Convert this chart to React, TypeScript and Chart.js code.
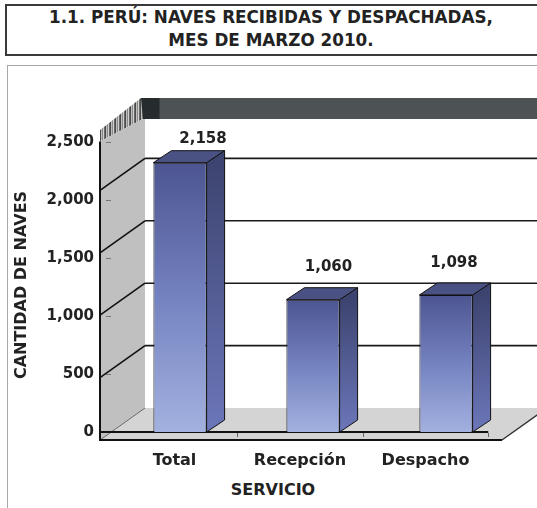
import React, { useEffect, useRef } from "react";
import { Chart, registerables } from "chart.js";

Chart.register(...registerables);

// ---------- data ----------
const categories = ["Total", "Recepción", "Despacho"];
const values = [2158, 1060, 1098];
const yTicks = [0, 500, 1000, 1500, 2000, 2500];
const titleLines = ["1.1. PERÚ: NAVES RECIBIDAS Y DESPACHADAS,", "MES DE MARZO 2010."];
const yTitle = "CANTIDAD DE NAVES";
const xTitle = "SERVICIO";

// ---------- styles ----------
const FONT = "'DejaVu Sans', 'Liberation Sans', Arial, sans-serif";
const TEXT = "#222222";
const FRONT = { dx: -13.5, dy: 8 };
const BACK = { dx: 31.5, dy: -24 };
const BAR_DEPTH = { dx: 18, dy: -12 };

const fmt = (v: number) => v.toLocaleString("en-US");

function stripePattern(ctx: CanvasRenderingContext2D) {
  const c = document.createElement("canvas");
  c.width = 5;
  c.height = 1;
  const g = c.getContext("2d")!;
  const cols = ["#4a4a4a", "#bdbdbd", "#8a8a8a", "#d0d0d0", "#6a6a6a"];
  cols.forEach((col, i) => {
    g.fillStyle = col;
    g.fillRect(i, 0, 1, 1);
  });
  return ctx.createPattern(c, "repeat");
}

const threeD = {
  id: "threeD",
  beforeDatasetsDraw(chart: any) {
    const { ctx, chartArea } = chart;
    const y = chart.scales.y;
    const yl = chart.scales.yl;
    const xl = chart.scales.xl;
    const top = yTicks[yTicks.length - 1];
    const Yf = (v: number) => y.getPixelForValue(v) + FRONT.dy;
    const Yb = (v: number) => y.getPixelForValue(v) + BACK.dy;
    const fL = chartArea.left + FRONT.dx;
    const bL = chartArea.left + BACK.dx;
    const fR = chartArea.right + FRONT.dx;
    const bR = chartArea.right + BACK.dx;
    ctx.save();

    // back wall gridlines
    ctx.strokeStyle = "#1a1a1a";
    ctx.lineWidth = 1.6;
    yTicks.slice(1, -1).forEach((v) => {
      ctx.beginPath();
      ctx.moveTo(bL, Yb(v));
      ctx.lineTo(bR + 20, Yb(v));
      ctx.stroke();
    });

    // top band of the back wall
    const bandTop = Yb(top) + 2;
    ctx.fillStyle = "#4d5355";
    ctx.fillRect(bL - 4, bandTop, bR + 40 - bL, 21);
    ctx.fillStyle = "#262c2e";
    ctx.fillRect(bL - 4, bandTop, 18.5, 21);

    // left wall striped top edge
    ctx.fillStyle = stripePattern(ctx) as any;
    ctx.beginPath();
    ctx.moveTo(fL, Yf(top) + 2);
    ctx.lineTo(bL - 4, Yb(top) + 2);
    ctx.lineTo(bL - 2, Yb(top) + 23);
    ctx.lineTo(fL, Yf(top) + 13.5);
    ctx.closePath();
    ctx.fill();

    // left wall
    ctx.fillStyle = "#c0c0c0";
    ctx.beginPath();
    ctx.moveTo(fL, Yf(top) + 13.5);
    ctx.lineTo(bL - 2, Yb(top) + 23);
    ctx.lineTo(bL, Yb(top) + 23);
    ctx.lineTo(bL, Yb(0));
    ctx.lineTo(fL, Yf(0));
    ctx.closePath();
    ctx.fill();

    // left wall diagonals
    ctx.strokeStyle = "#111";
    ctx.lineWidth = 1.6;
    yTicks.slice(1, -1).forEach((v) => {
      ctx.beginPath();
      ctx.moveTo(fL, Yf(v));
      ctx.lineTo(bL, Yb(v));
      ctx.stroke();
    });

    // minor tick marks on wall (label scale)
    ctx.strokeStyle = "#777";
    ctx.lineWidth = 1;
    yTicks.forEach((v) => {
      const py = Math.round(yl.getPixelForValue(v)) + 0.5;
      ctx.beginPath();
      ctx.moveTo(fL + 6, py);
      ctx.lineTo(fL + 11, py);
      ctx.stroke();
    });

    // floor
    ctx.fillStyle = "#d4d4d4";
    ctx.beginPath();
    ctx.moveTo(fL, Yf(0));
    ctx.lineTo(fR + 3, Yf(0));
    ctx.lineTo(bR + 3, Yb(0));
    ctx.lineTo(bL, Yb(0));
    ctx.closePath();
    ctx.fill();
    ctx.strokeStyle = "#333";
    ctx.lineWidth = 1.5;
    ctx.beginPath();
    ctx.moveTo(fR + 3, Yf(0));
    ctx.lineTo(bR + 3, Yb(0));
    ctx.stroke();
    ctx.strokeStyle = "#666";
    ctx.lineWidth = 1;
    ctx.beginPath();
    ctx.moveTo(fL, Yf(0));
    ctx.lineTo(bL, Yb(0));
    ctx.stroke();
    ctx.strokeStyle = "#111";
    ctx.lineWidth = 1.8;
    ctx.beginPath();
    ctx.moveTo(fL, Yf(0));
    ctx.lineTo(fR + 3, Yf(0));
    ctx.stroke();

    // x axis line (bar plane) and category boundary ticks
    const base = y.getPixelForValue(0);
    const xEnd = xl.getPixelForValue(categories.length - 0.5);
    ctx.strokeStyle = "#111";
    ctx.lineWidth = 2;
    ctx.beginPath();
    ctx.moveTo(fL, base);
    ctx.lineTo(xEnd, base);
    ctx.stroke();
    ctx.strokeStyle = "#666";
    ctx.lineWidth = 1;
    for (let i = 0; i < categories.length; i++) {
      const px = Math.round(xl.getPixelForValue(i + 0.5)) + 0.5;
      ctx.beginPath();
      ctx.moveTo(px, base + 1);
      ctx.lineTo(px, base + 5);
      ctx.stroke();
    }

    // left front edge
    ctx.strokeStyle = "#111";
    ctx.lineWidth = 2;
    ctx.beginPath();
    ctx.moveTo(fL, Yf(top) + 13.5);
    ctx.lineTo(fL, Yf(0) + 1);
    ctx.stroke();

    ctx.restore();
  },
  afterDatasetsDraw(chart: any) {
    const { ctx } = chart;
    const meta = chart.getDatasetMeta(0);
    const yl = chart.scales.yl;
    const xl = chart.scales.xl;
    ctx.save();
    ctx.lineWidth = 1;
    ctx.strokeStyle = "#111";
    meta.data.forEach((bar: any, i: number) => {
      const { x, y, base, width } = bar.getProps(["x", "y", "base", "width"], true);
      if (![x, y, base, width].every(Number.isFinite)) return;
      const l = x - width / 2;
      const r = x + width / 2;
      // side face
      const g = ctx.createLinearGradient(0, y, 0, base);
      g.addColorStop(0, "#3d4470");
      g.addColorStop(1, "#6c77ba");
      ctx.fillStyle = g;
      ctx.beginPath();
      ctx.moveTo(r, y);
      ctx.lineTo(r + BAR_DEPTH.dx, y + BAR_DEPTH.dy);
      ctx.lineTo(r + BAR_DEPTH.dx, base + BAR_DEPTH.dy);
      ctx.lineTo(r, base);
      ctx.closePath();
      ctx.fill();
      ctx.stroke();
      // top face
      ctx.fillStyle = "#4a5283";
      ctx.beginPath();
      ctx.moveTo(l, y);
      ctx.lineTo(l + BAR_DEPTH.dx, y + BAR_DEPTH.dy);
      ctx.lineTo(r + BAR_DEPTH.dx, y + BAR_DEPTH.dy);
      ctx.lineTo(r, y);
      ctx.closePath();
      ctx.fill();
      ctx.stroke();
      // value label
      ctx.fillStyle = TEXT;
      ctx.font = `bold 15px ${FONT}`;
      ctx.textAlign = "center";
      ctx.textBaseline = "middle";
      ctx.fillText(fmt(values[i]), xl.getPixelForValue(i) + 28.5, yl.getPixelForValue(values[i]) - 42);
    });
    ctx.restore();
  },
};

export default function App() {
  const ref = useRef<HTMLCanvasElement>(null);

  useEffect(() => {
    const canvas = ref.current!;
    const chart = new Chart(canvas, {
      type: "bar",
      data: {
        labels: categories,
        datasets: [
          {
            data: values,
            borderColor: "#111",
            borderWidth: 1,
            barPercentage: 0.4,
            categoryPercentage: 1,
            backgroundColor: (c: any) => {
              const ch = c.chart;
              const ys = ch.scales && ch.scales.y;
              const v = c.parsed ? c.parsed.y : values[c.dataIndex];
              if (!ys || v == null) return "#6a78b8";
              const t = ys.getPixelForValue(v);
              const b = ys.getPixelForValue(0);
              if (!Number.isFinite(t) || !Number.isFinite(b) || t === b) return "#6a78b8";
              const g = ch.ctx.createLinearGradient(0, t, 0, b);
              g.addColorStop(0, "#4c5590");
              g.addColorStop(0.5, "#7482c0");
              g.addColorStop(1, "#a3b1e0");
              return g;
            },
          },
        ],
      },
      options: {
        animation: false,
        responsive: false,
        devicePixelRatio: 1,
        layout: { padding: { left: 0, right: 24.5, top: 120, bottom: 0 } },
        plugins: { legend: { display: false }, tooltip: { enabled: false }, title: { display: false } },
        scales: {
          x: { type: "category", display: false, offset: true },
          y: { type: "linear", display: false, min: -144.2, max: 2500 },
          yl: {
            type: "linear",
            position: "left",
            min: -150.5,
            max: 2687,
            offset: false,
            grid: { display: false, drawTicks: false },
            border: { display: false },
            afterBuildTicks: (s: any) => {
              s.ticks = yTicks.map((v) => ({ value: v }));
            },
            afterFit: (s: any) => {
              s.width = 113.5;
            },
            ticks: {
              padding: 19.5,
              color: TEXT,
              font: { family: FONT, size: 15, weight: "bold" },
              callback: (v: any) => fmt(Number(v)),
            },
            title: {
              display: true,
              text: yTitle,
              color: TEXT,
              font: { family: FONT, size: 16, weight: "bold" },
              padding: { top: 12, bottom: 0 },
            },
          },
          xl: {
            type: "linear",
            position: "bottom",
            offset: false,
            min: (113.5 - 174.5) / 125.5,
            max: (512.5 - 174.5) / 125.5,
            grid: { display: false, drawTicks: false, offset: false },
            border: { display: false },
            afterBuildTicks: (s: any) => {
              s.ticks = categories.map((_, i) => ({ value: i }));
            },
            afterFit: (s: any) => {
              s.height = 58;
            },
            ticks: {
              padding: 1,
              color: TEXT,
              autoSkip: false,
              maxRotation: 0,
              font: { family: FONT, size: 16, weight: "bold" },
              callback: (v: any) => categories[Math.round(Number(v))] ?? "",
            },
          },
        },
      } as any,
      plugins: [threeD],
    });
    return () => chart.destroy();
  }, []);

  return (
    <div
      style={{
        position: "absolute",
        left: 0,
        top: 0,
        width: 537,
        height: 508,
        overflow: "hidden",
        background: "#fff",
        fontFamily: FONT,
        color: TEXT,
      }}
    >
      <div
        style={{
          position: "absolute",
          left: 5,
          top: 4,
          width: 560,
          height: 48,
          border: "2px solid #3a3a3a",
        }}
      />
      <div
        style={{
          position: "absolute",
          left: 0,
          top: 6,
          width: 542,
          textAlign: "center",
          fontWeight: "bold",
          fontSize: 16.8,
          lineHeight: "22.5px",
        }}
      >
        {titleLines.map((t) => (
          <div key={t}>{t}</div>
        ))}
      </div>
      <div
        style={{
          position: "absolute",
          left: 7,
          top: 65,
          width: 600,
          height: 500,
          borderTop: "1.5px solid #a8a8a8",
          borderLeft: "1.5px solid #a8a8a8",
        }}
      />
      <div
        style={{
          position: "absolute",
          left: 173,
          top: 481,
          width: 200,
          textAlign: "center",
          fontWeight: "bold",
          fontSize: 16,
          lineHeight: "18px",
        }}
      >
        {xTitle}
      </div>
      <canvas ref={ref} width={537} height={508} style={{ position: "absolute", left: 0, top: 0, width: 537, height: 508 }} />
    </div>
  );
}
